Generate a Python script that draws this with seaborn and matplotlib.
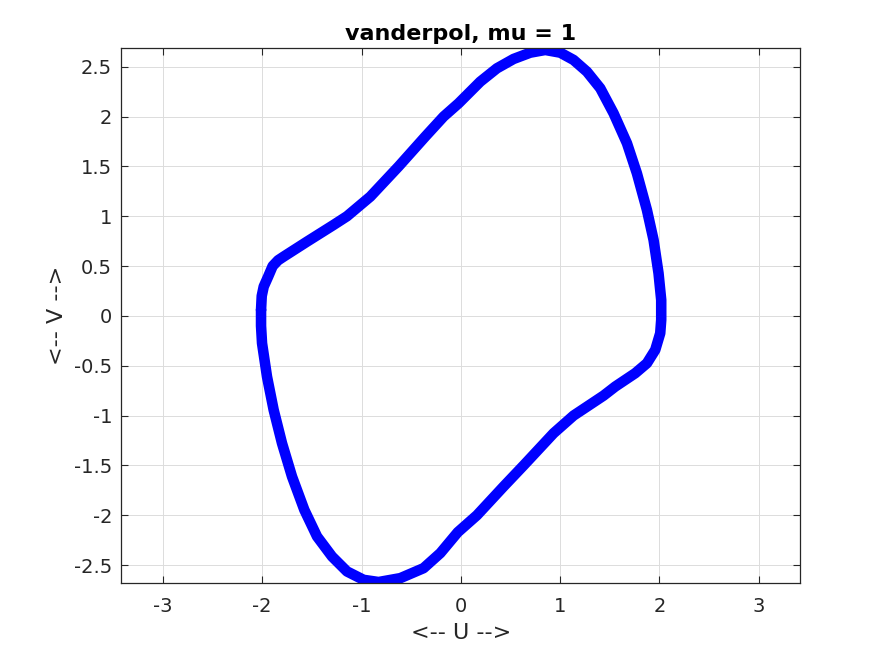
import pandas as pd
import seaborn as sns
import matplotlib.pyplot as plt

# Limit cycle points (clockwise from the left edge)
u_vals = [-2.012, -2.005, -1.985, -1.94, -1.895, -1.84, -1.784, -1.549, -1.281,
          -1.146, -0.911, -0.626, -0.357, -0.173, -0.022, 0.196, 0.364, 0.532,
          0.700, 0.851, 1.002, 1.136, 1.271, 1.405, 1.539, 1.674, 1.774, 1.875,
          1.942, 1.992, 2.019, 2.019, 2.009, 1.959, 1.875, 1.757, 1.556, 1.438,
          1.136, 0.935, 0.633, 0.431, 0.163, -0.03, -0.206, -0.375, -0.609,
          -0.828, -0.979, -1.146, -1.297, -1.448, -1.576, -1.70, -1.801, -1.885,
          -1.952, -2.002, -2.012, -2.012]
v_vals = [0.06, 0.20, 0.294, 0.395, 0.50, 0.558, 0.595, 0.745, 0.913,
          1.0, 1.197, 1.50, 1.80, 2.0, 2.133, 2.35, 2.484, 2.578,
          2.641, 2.668, 2.641, 2.568, 2.45, 2.284, 2.033, 1.732, 1.431, 1.063,
          0.762, 0.428, 0.16, -0.04, -0.174, -0.341, -0.475, -0.575, -0.709, -0.80,
          -1.0, -1.177, -1.5, -1.712, -2.0, -2.17, -2.38, -2.531, -2.631,
          -2.67, -2.648, -2.564, -2.414, -2.213, -1.946, -1.612, -1.277, -0.943,
          -0.609, -0.274, -0.10, 0.06]

x_ticks = [-3, -2, -1, 0, 1, 2, 3]
y_ticks = [-2.5, -2, -1.5, -1, -0.5, 0, 0.5, 1, 1.5, 2, 2.5]

df = pd.DataFrame({"u": u_vals, "v": v_vals})

sns.set_style("ticks")
plt.rcParams["font.family"] = ["DejaVu Sans"]

fig = plt.figure(figsize=(8.91, 6.56), dpi=100)
ax = fig.add_axes([0.1361, 0.1108, 0.7621, 0.8156])

sns.lineplot(data=df, x="u", y="v", sort=False, estimator=None,
             color="#0000ff", linewidth=7.6, ax=ax)
for ln in ax.lines:
    ln.set_solid_capstyle("round")
    ln.set_solid_joinstyle("round")

ax.set_xlim(-3.42, 3.42)
ax.set_ylim(-2.683, 2.685)
ax.set_xticks(x_ticks)
ax.set_yticks(y_ticks)
ax.set_xticklabels([f"{t:g}" for t in x_ticks])
ax.set_yticklabels([f"{t:g}" for t in y_ticks])

# matlab-like box, light grid, inward ticks
ax.grid(True, color="#dcdcdc", linewidth=0.7)
ax.set_axisbelow(True)
for spine in ax.spines.values():
    spine.set_visible(True)
    spine.set_color("#262626")
    spine.set_linewidth(0.9)
ax.tick_params(direction="in", length=5, width=0.8, colors="#262626",
               labelsize=14, top=True, right=True)
ax.tick_params(axis="x", pad=10)
ax.tick_params(axis="y", pad=6.5)

ax.set_xlabel("<-- U -->", fontsize=16, color="#262626", labelpad=5)
ax.set_ylabel("<-- V -->", fontsize=16, color="#262626", labelpad=5)
ax.set_title("vanderpol, mu = 1", fontsize=16, fontweight="bold",
             color="black", pad=6)

fig.savefig("out.png", dpi=100)
